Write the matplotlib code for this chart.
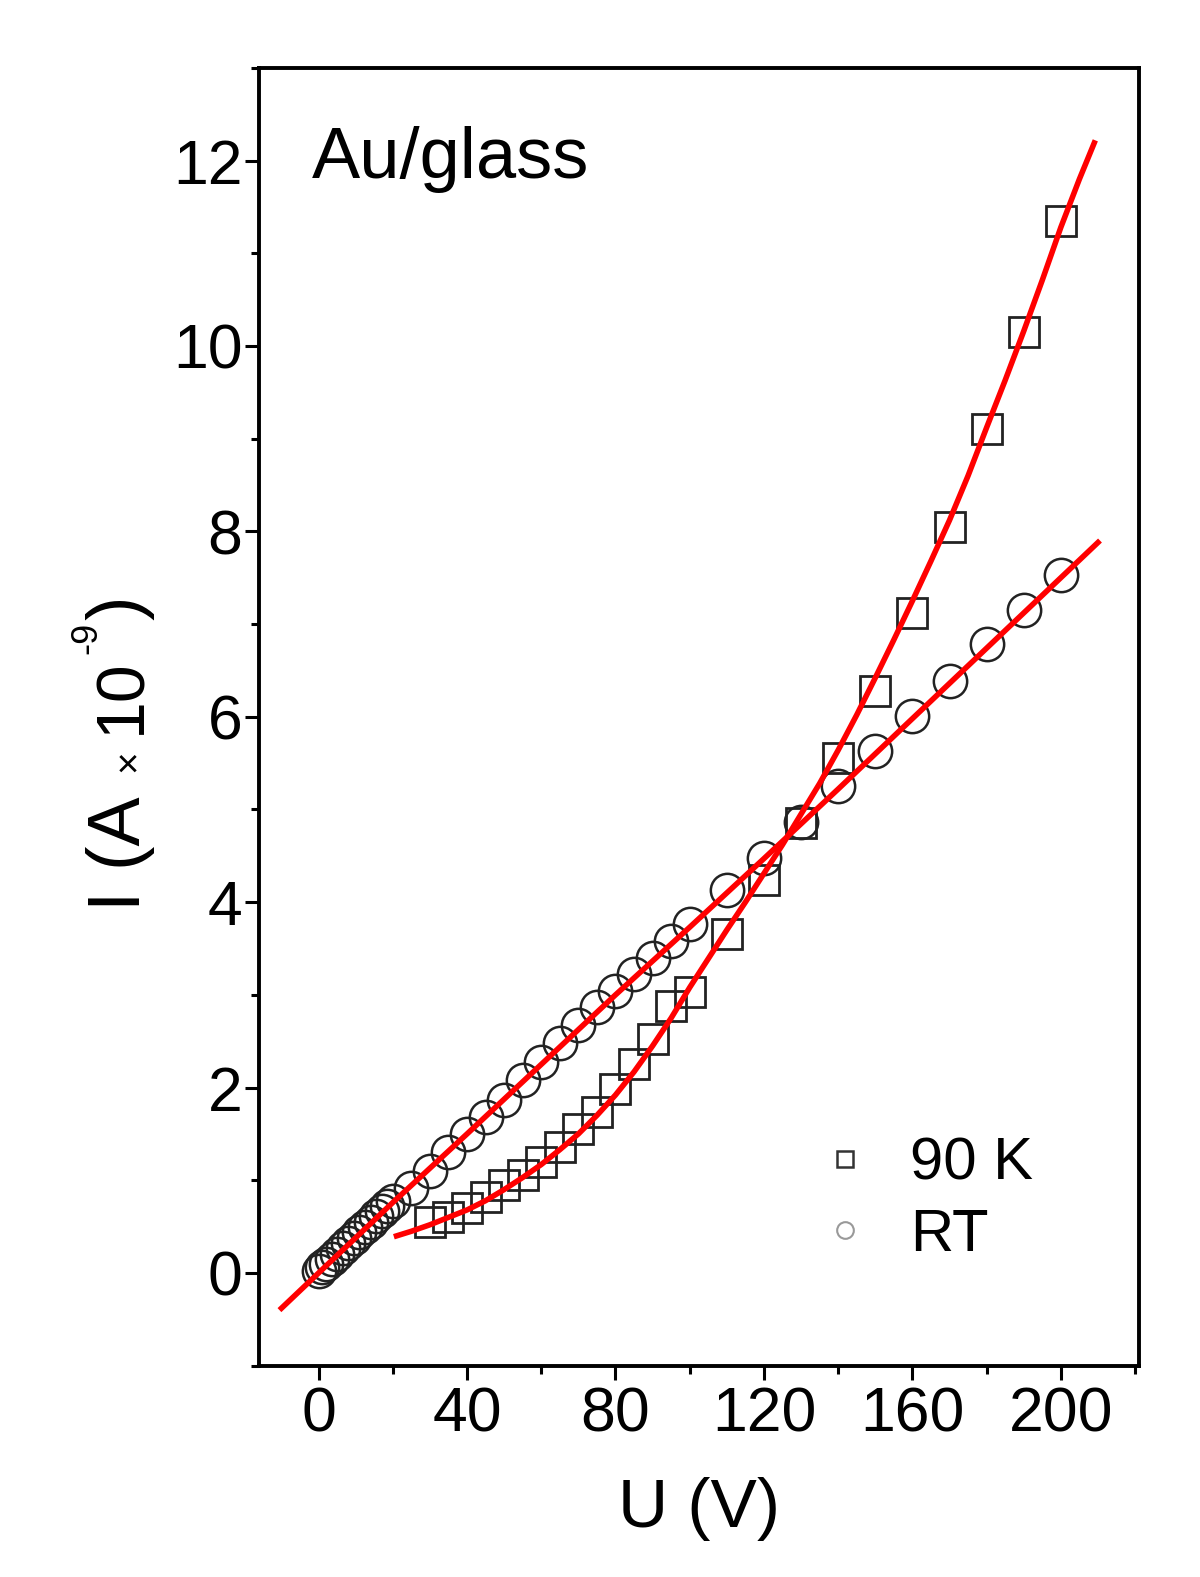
import matplotlib
matplotlib.use("Agg")
import matplotlib.pyplot as plt
from matplotlib.lines import Line2D
from matplotlib.ticker import MultipleLocator
from matplotlib.transforms import IdentityTransform

plt.rcParams['font.family'] = ['Liberation Sans', 'DejaVu Sans']

# 90 K data (squares)
u_90k = [30, 35, 40, 45, 50, 55, 60, 65, 70, 75, 80, 85, 90, 95, 100,
         110, 120, 130, 140, 150, 160, 170, 180, 190, 200]
i_90k = [0.55, 0.60, 0.70, 0.82, 0.95, 1.06, 1.20, 1.36, 1.55, 1.74, 1.98, 2.25, 2.52, 2.88, 3.03,
         3.66, 4.24, 4.85, 5.55, 6.28, 7.12, 8.05, 9.10, 10.15, 11.35]

# RT data (circles)
u_rt = [0, 1, 2, 3.5, 5, 6.5, 8, 9.5, 11, 12.5, 14, 15.5, 17, 18.5, 20,
        25, 30, 35, 40, 45, 50, 55, 60, 65, 70, 75, 80, 85, 90, 95, 100,
        110, 120, 130, 140, 150, 160, 170, 180, 190, 200]
i_rt = [0.02, 0.06, 0.10, 0.15, 0.21, 0.27, 0.32, 0.38, 0.44, 0.50, 0.55, 0.61, 0.67, 0.72, 0.78,
        0.92, 1.10, 1.30, 1.50, 1.68, 1.87, 2.08, 2.28, 2.48, 2.67, 2.87, 3.04, 3.22, 3.40, 3.58, 3.76,
        4.13, 4.48, 4.86, 5.25, 5.63, 6.01, 6.39, 6.78, 7.15, 7.53]

# fitted curves (red)
fit_u_90k = [21, 25, 30, 35, 40, 45, 50, 55, 60, 65, 70, 75, 80, 85, 90, 95, 100, 105, 110, 115,
             120, 125, 130, 135, 140, 145, 150, 155, 160, 165, 170, 175, 180, 185, 190, 195, 200, 205, 209]
fit_i_90k = [0.40, 0.45, 0.52, 0.60, 0.68, 0.78, 0.90, 1.03, 1.17, 1.33, 1.50, 1.70, 1.92, 2.17, 2.45,
             2.75, 3.08, 3.39, 3.70, 4.00, 4.31, 4.62, 4.95, 5.28, 5.64, 6.02, 6.42, 6.83, 7.25, 7.68,
             8.12, 8.60, 9.12, 9.63, 10.16, 10.71, 11.28, 11.80, 12.19]

fit_u_rt = [-10, 0, 20, 40, 60, 80, 100, 120, 140, 160, 180, 200, 210]
fit_i_rt = [-0.38, 0.0, 0.76, 1.50, 2.25, 3.00, 3.73, 4.47, 5.22, 5.98, 6.74, 7.50, 7.88]

fig = plt.figure(figsize=(12, 15.77), dpi=100)
ax = fig.add_axes([0.216, 0.134, 0.733, 0.823])

ax.plot(u_90k, i_90k, 's', ms=21, mfc='none', mec='#222222', mew=2.0, zorder=2)
ax.plot(u_rt, i_rt, 'o', ms=24, mfc='none', mec='#222222', mew=1.8, zorder=2)
ax.plot(fit_u_90k, fit_i_90k, '-', color='#ff0000', lw=4, zorder=3)
ax.plot(fit_u_rt, fit_i_rt, '-', color='#ff0000', lw=4, zorder=3)

ax.set_xlim(-16, 221)
ax.set_ylim(-1, 13)
ax.xaxis.set_major_locator(MultipleLocator(40))
ax.xaxis.set_minor_locator(MultipleLocator(20))
ax.yaxis.set_major_locator(MultipleLocator(2))
ax.yaxis.set_minor_locator(MultipleLocator(1))
ax.tick_params(which='major', length=10, width=2.2, direction='out', labelsize=45)
ax.tick_params(which='minor', length=6, width=2.2, direction='out')
ax.tick_params(axis='x', pad=4)
ax.tick_params(axis='y', pad=2)
for s in ax.spines.values():
    s.set_linewidth(2.8)

ax.set_xlabel('U (V)', fontsize=50, labelpad=24)

# y label built from pieces so the "x" and the exponent can be small
pix = IdentityTransform()
kw = dict(rotation=90, rotation_mode='anchor', ha='left', va='baseline', transform=pix)
fig.text(140, 666, 'I (A', fontsize=53, **kw)
fig.text(140, 805, '\u00d7', fontsize=28, **kw)
fig.text(140, 843, '10', fontsize=49, **kw)
fig.text(96, 923, '-9', fontsize=26, **kw)
fig.text(140, 957, ')', fontsize=53, **kw)

ax.text(0.0595, 0.915, 'Au/glass', transform=ax.transAxes, fontsize=52, va='baseline')

handles = [
    Line2D([], [], marker='s', ls='none', ms=11, mfc='none', mec='#333333', mew=1.8),
    Line2D([], [], marker='o', ls='none', ms=12, mfc='none', mec='#999999', mew=1.5),
]
ax.legend(handles, ['90 K', 'RT'], loc='lower right', bbox_to_anchor=(0.88, 0.079),
          frameon=False, fontsize=43, handletextpad=0.35, labelspacing=0.28,
          handlelength=1.5, borderpad=0, borderaxespad=0)

fig.savefig('out.png', dpi=100)
